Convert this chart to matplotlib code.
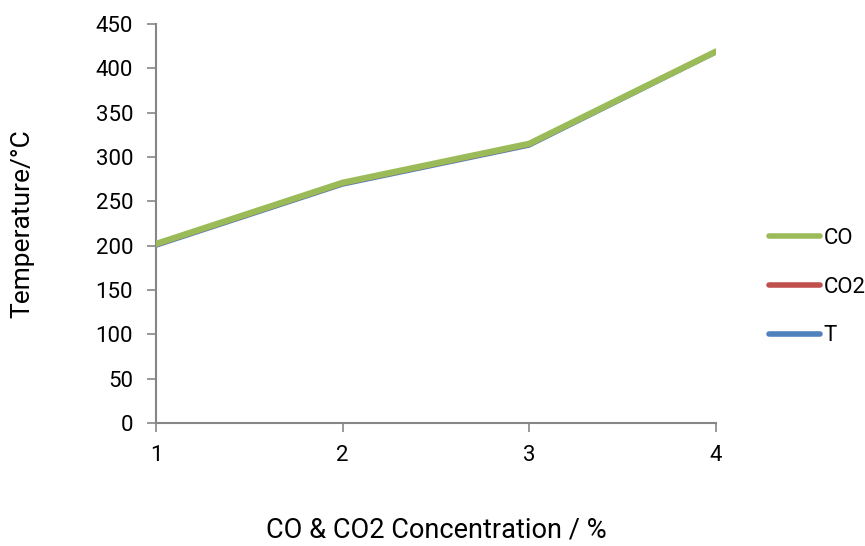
import matplotlib
matplotlib.use("Agg")
import matplotlib.pyplot as plt

plt.rcParams['font.family'] = ['Roboto', 'DejaVu Sans']

# Data
concentration = [1, 2, 3, 4]
co_temp = [202, 271, 315, 419]
co2_temp = [200, 269, 313, 418]
t_temp = [199, 268, 312, 417]
series_names = ['CO', 'CO2', 'T']
colors = ['#9BBB59', '#C0504D', '#4F81BD']
y_ticks = [0, 50, 100, 150, 200, 250, 300, 350, 400, 450]

fig = plt.figure(figsize=(8.65, 5.46), dpi=100)
ax = fig.add_axes([0.1803, 0.2253, 0.6474, 0.7307])

ax.plot(concentration, t_temp, color=colors[2], lw=2.0, zorder=2, label=series_names[2],
        solid_capstyle='round')
ax.plot(concentration, co2_temp, color=colors[1], lw=2.0, zorder=3, label=series_names[1],
        solid_capstyle='round')
ax.plot(concentration, co_temp, color=colors[0], lw=4.5, zorder=4, label=series_names[0],
        solid_capstyle='round')

ax.set_xlim(1, 4)
ax.set_ylim(0, 450)
ax.set_xticks(concentration)
ax.set_yticks(y_ticks)

for side in ['top', 'right']:
    ax.spines[side].set_visible(False)
for side in ['left', 'bottom']:
    ax.spines[side].set_color('#868686')
    ax.spines[side].set_linewidth(1.5)
ax.tick_params(axis='both', colors='#868686', length=6.5, width=1.2, labelsize=16,
               labelcolor='black', pad=10)
ax.tick_params(axis='x', pad=9)

ax.set_ylabel('Temperature/°C', fontsize=19, labelpad=44)
ax.set_xlabel('CO & CO2 Concentration / %', fontsize=19.5, labelpad=37)

handles, labels = ax.get_legend_handles_labels()
order = [2, 1, 0]
leg = fig.legend([handles[i] for i in order], [labels[i] for i in order],
                 loc='center left', bbox_to_anchor=(0.866, 0.474), frameon=False,
                 fontsize=16, handlelength=2.3, handletextpad=0.15, labelspacing=1.25)
for line in leg.get_lines():
    line.set_linewidth(4)

fig.savefig('out.png', dpi=100)
